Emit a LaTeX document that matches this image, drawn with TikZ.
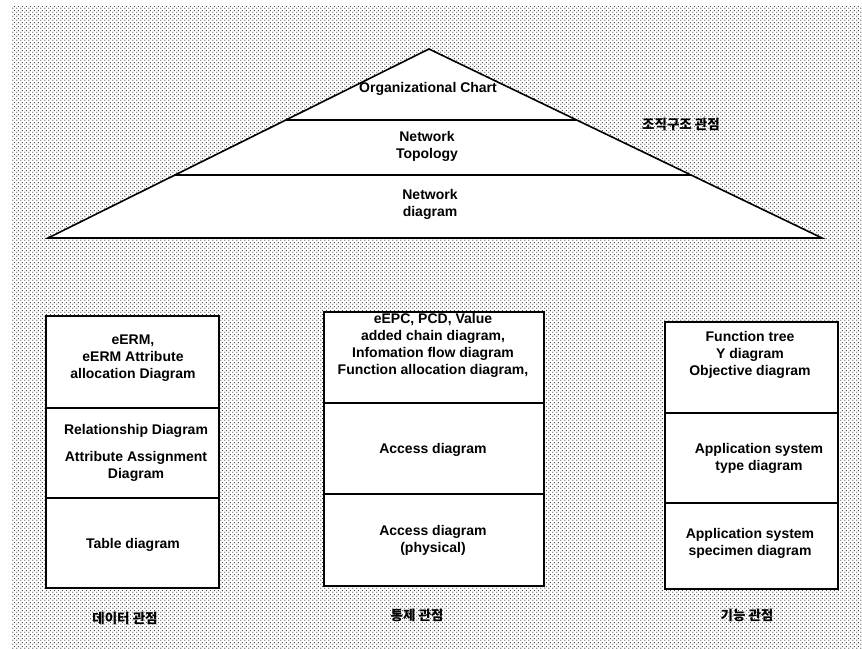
\documentclass[tikz,border=0pt]{standalone}
\usepackage{fontspec}
\setmainfont{Liberation Sans}
\newfontfamily\krfont{Noto Sans CJK KR}
\usetikzlibrary{patterns}
\pgfdeclarepatternformonly{halftone}{\pgfpointorigin}{\pgfpoint{4pt}{4pt}}{\pgfpoint{4pt}{4pt}}{%
  \pgfpathcircle{\pgfpoint{1pt}{1pt}}{0.7pt}%
  \pgfpathcircle{\pgfpoint{3pt}{3pt}}{0.7pt}%
  \pgfusepath{fill}}
\begin{document}
\begin{tikzpicture}[x=1pt,y=-1pt,
  lbl/.style={font=\bfseries\fontsize{14}{17}\selectfont, align=center, inner sep=0pt},
  kor/.style={font=\krfont\bfseries\fontsize{13.5}{15}\selectfont, inner sep=0pt},
  sec/.style={draw, fill=white, line width=1.6pt, anchor=north west, inner sep=0pt},
  edge/.style={line width=1.6pt}]
\useasboundingbox (0,0) rectangle (862,648);
\fill[white] (0,0) rectangle (862,648);
\fill[pattern=halftone, pattern color=black!80] (11,6) rectangle (862,648);

% pyramid
\coordinate (TL) at (48,238);
\coordinate (TA) at (429,49);
\coordinate (TR) at (822,238);
\draw[edge, fill=white] (TL) -- (TA) -- (TR) -- cycle;
\coordinate (L1) at (intersection of TL--TA and 0,120--10,120);
\coordinate (R1) at (intersection of TR--TA and 0,120--10,120);
\coordinate (L2) at (intersection of TL--TA and 0,175--10,175);
\coordinate (R2) at (intersection of TR--TA and 0,175--10,175);
\draw[edge] (L1) -- (R1);
\draw[edge] (L2) -- (R2);
\node[lbl] (org) at (428,89) {Organizational Chart};
\node[lbl] (topo) at (427,146.5) {Network\\Topology};
\node[lbl] (netd) at (430,204.5) {Network\\diagram};
\node[kor] (korg) at (681,124) {조직구조 관점};

% data view
\node[sec, minimum width=173pt, minimum height=92pt] (d1) at (45,315) {};
\node[sec, minimum width=173pt, minimum height=90pt] (d2) at (45,407) {};
\node[sec, minimum width=173pt, minimum height=90pt] (d3) at (45,497) {};
\node[lbl] (d1t) at (133,358) {eERM,\\eERM Attribute\\allocation Diagram};
\node[lbl] (d2t) at (136,453) {Relationship Diagram\\[10pt]Attribute Assignment\\Diagram};
\node[lbl] (d3t) at (133,545) {Table diagram};
\node[kor] (kd) at (125,618) {데이터 관점};

% control view
\node[sec, minimum width=220pt, minimum height=91pt] (c1) at (323,311) {};
\node[sec, minimum width=220pt, minimum height=91pt] (c2) at (323,402) {};
\node[sec, minimum width=220pt, minimum height=92pt] (c3) at (323,493) {};
\node[lbl] (c1t) at (433,345.5) {eEPC, PCD, Value\\added chain diagram,\\Infomation flow diagram\\Function allocation diagram,};
\node[lbl] (c2t) at (433,450) {Access diagram};
\node[lbl] (c3t) at (433,540.5) {Access diagram\\(physical)};
\node[kor] (kc) at (417,615) {통제 관점};

% function view
\node[sec, minimum width=173pt, minimum height=91pt] (f1) at (664,321) {};
\node[sec, minimum width=173pt, minimum height=90pt] (f2) at (664,412) {};
\node[sec, minimum width=173pt, minimum height=86pt] (f3) at (664,502) {};
\node[lbl] (f1t) at (750,354.5) {Function tree\\Y diagram\\Objective diagram};
\node[lbl] (f2t) at (759,458.5) {Application system\\type diagram};
\node[lbl] (f3t) at (750,543.5) {Application system\\specimen diagram};
\node[kor] (kf) at (747,615) {기능 관점};
\end{tikzpicture}
\end{document}
